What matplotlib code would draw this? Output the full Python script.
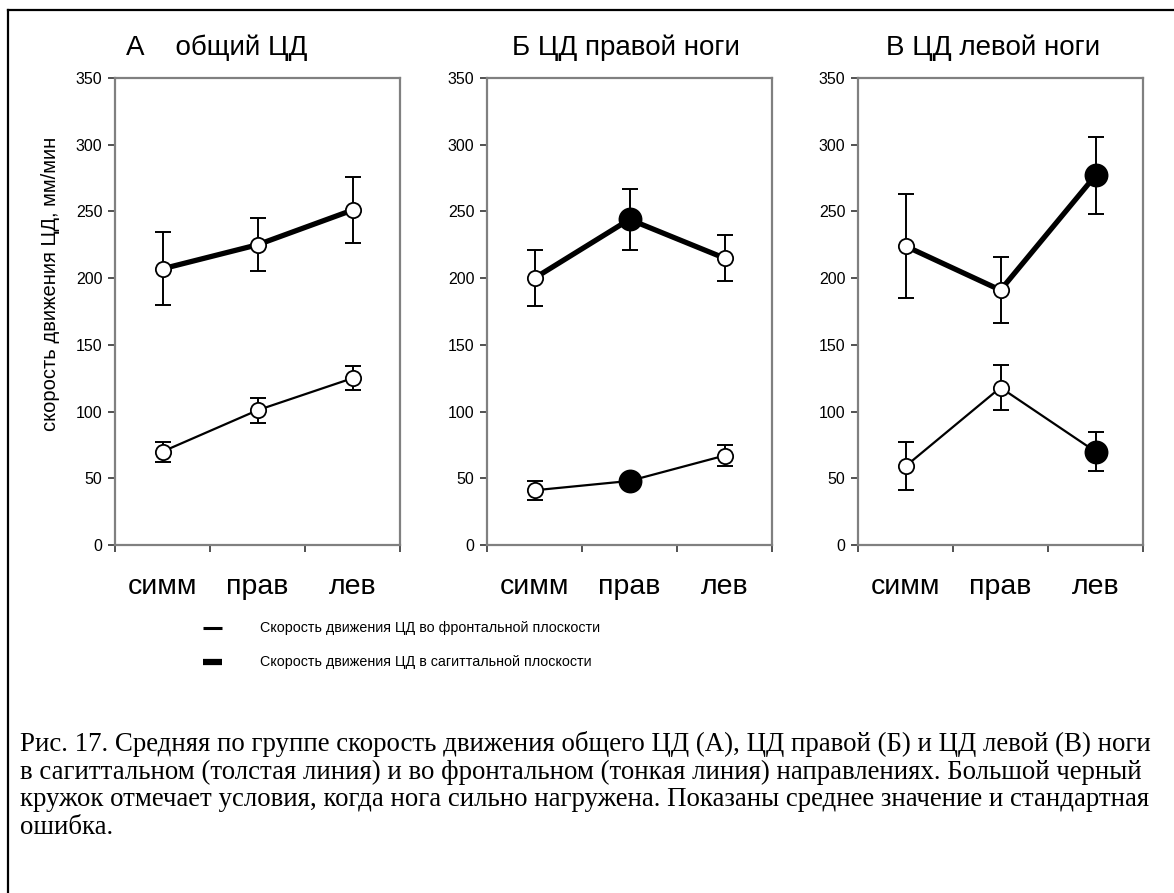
import matplotlib
matplotlib.use("Agg")
import matplotlib.pyplot as plt
from matplotlib import font_manager
from matplotlib.lines import Line2D

# ---------------- data ----------------
categories = ["симм", "прав", "лев"]
panel_titles = ["А    общий ЦД", "Б ЦД правой ноги", "В ЦД левой ноги"]

# sagittal (thick line)
sag_A = [207, 225, 251]
sag_A_se = [27.5, 20, 25]
sag_B = [200, 244, 215]
sag_B_se = [21, 23, 17.5]
sag_C = [224, 191, 277]
sag_C_se = [39, 24.5, 29]

# frontal (thin line)
fr_A = [70, 101, 125]
fr_A_se = [7.5, 9.5, 9]
fr_B = [41, 48, 67]
fr_B_se = [7, 5, 8]
fr_C = [59, 118, 70]
fr_C_se = [18, 17, 14.5]

# leg heavily loaded -> large black marker
loaded_A = [False, False, False]
loaded_B = [False, True, False]
loaded_C = [False, False, True]

yticks = [0, 50, 100, 150, 200, 250, 300, 350]
ylabel = "скорость движения ЦД, мм/мин"
legend_labels = ["Скорость движения ЦД во фронтальной плоскости",
                 "Скорость движения ЦД в сагиттальной плоскости"]
caption_lines = [
    "Рис. 17. Средняя по группе скорость движения общего ЦД (А), ЦД правой (Б) и ЦД левой (В) ноги",
    "в сагиттальном (толстая линия) и во фронтальном (тонкая линия) направлениях. Большой черный",
    "кружок отмечает условия, когда нога сильно нагружена. Показаны среднее значение и стандартная",
    "ошибка.",
]

# ---------------- fonts ----------------
def has_font(name):
    try:
        font_manager.findfont(name, fallback_to_default=False)
        return True
    except Exception:
        return False

SANS = "Liberation Sans" if has_font("Liberation Sans") else "DejaVu Sans"
NARROW = "Liberation Sans Narrow" if has_font("Liberation Sans Narrow") else SANS
SERIF = "Liberation Serif" if has_font("Liberation Serif") else "DejaVu Serif"
plt.rcParams["font.family"] = [SANS, "DejaVu Sans"]
legend_fs = 12 if NARROW != SANS else 10.3

# ---------------- figure ----------------
W, H = 1174, 893
DPI = 100
fig = plt.figure(figsize=(W / DPI, H / DPI), dpi=DPI)
fig.patch.set_facecolor("white")

def fx(px):
    return px / W

def fy(py):
    return 1 - py / H

# outer frame (only top and left edges visible)
fig.add_artist(Line2D([fx(8), fx(W + 5)], [fy(10), fy(10)], color="black", lw=1.6,
                      transform=fig.transFigure))
fig.add_artist(Line2D([fx(8), fx(8)], [fy(10), fy(H + 5)], color="black", lw=1.6,
                      transform=fig.transFigure))

ax_lefts = [115, 487, 858]
ax_w = 285
ax_top, ax_bot = 78, 545
title_centers = [217, 626, 993]

panels = [
    (sag_A, sag_A_se, fr_A, fr_A_se, loaded_A),
    (sag_B, sag_B_se, fr_B, fr_B_se, loaded_B),
    (sag_C, sag_C_se, fr_C, fr_C_se, loaded_C),
]

x = [1, 2, 3]
for i, (sag, sag_se, fr, fr_se, loaded) in enumerate(panels):
    ax = fig.add_axes([fx(ax_lefts[i]), fy(ax_bot), ax_w / W, (ax_bot - ax_top) / H])
    ax.set_xlim(0.5, 3.5)
    ax.set_ylim(0, 350)
    for s in ax.spines.values():
        s.set_color("#808080")
        s.set_linewidth(1.6)
    ax.set_yticks(yticks)
    ax.set_yticklabels([str(t) for t in yticks])
    ax.tick_params(axis="y", direction="out", length=5, width=1.2, color="#333333",
                   labelsize=11.5, pad=4)
    ax.set_xticks([0.5, 1.5, 2.5, 3.5])
    ax.set_xticklabels([])
    ax.tick_params(axis="x", which="major", direction="out", length=5, width=1.2,
                   color="#333333")
    ax.set_xticks(x, categories, minor=True)
    ax.tick_params(axis="x", which="minor", length=0, labelsize=20.5, pad=21)

    for vals, se, lw in ((sag, sag_se, 3.8), (fr, fr_se, 1.6)):
        ax.errorbar(x, vals, yerr=se, fmt="none", ecolor="black", elinewidth=1.4,
                    capsize=5.5, capthick=1.4, zorder=2)
        ax.plot(x, vals, color="black", lw=lw, zorder=3, solid_capstyle="round")
        for xi, v, ld in zip(x, vals, loaded):
            if ld:
                ax.plot(xi, v, marker="o", ms=16, mfc="black", mec="black", mew=1.2,
                        zorder=5)
            else:
                ax.plot(xi, v, marker="o", ms=11, mfc="white", mec="black", mew=1.3,
                        zorder=5)

    fig.text(fx(title_centers[i]), fy(48), panel_titles[i], ha="center", va="center",
             fontsize=20)

# y label
fig.text(fx(51), fy(284), ylabel, rotation=90, ha="center", va="center", fontsize=14.5)

# legend
fig.add_artist(Line2D([fx(203), fx(222)], [fy(628), fy(628)], color="black", lw=2.2,
                      solid_capstyle="butt", transform=fig.transFigure))
fig.add_artist(Line2D([fx(203), fx(222)], [fy(662), fy(662)], color="black", lw=4.5,
                      solid_capstyle="butt", transform=fig.transFigure))
fig.text(fx(260), fy(628), legend_labels[0], ha="left", va="center", fontsize=legend_fs,
         family=[NARROW, "DejaVu Sans"])
fig.text(fx(260), fy(662), legend_labels[1], ha="left", va="center", fontsize=legend_fs,
         family=[NARROW, "DejaVu Sans"])

# caption
for k, line in enumerate(caption_lines):
    fig.text(fx(20), fy(744 + 28 * k), line, ha="left", va="center", fontsize=19.4,
             family=[SERIF, "DejaVu Serif"])

fig.savefig("out.png", dpi=DPI, facecolor="white")
